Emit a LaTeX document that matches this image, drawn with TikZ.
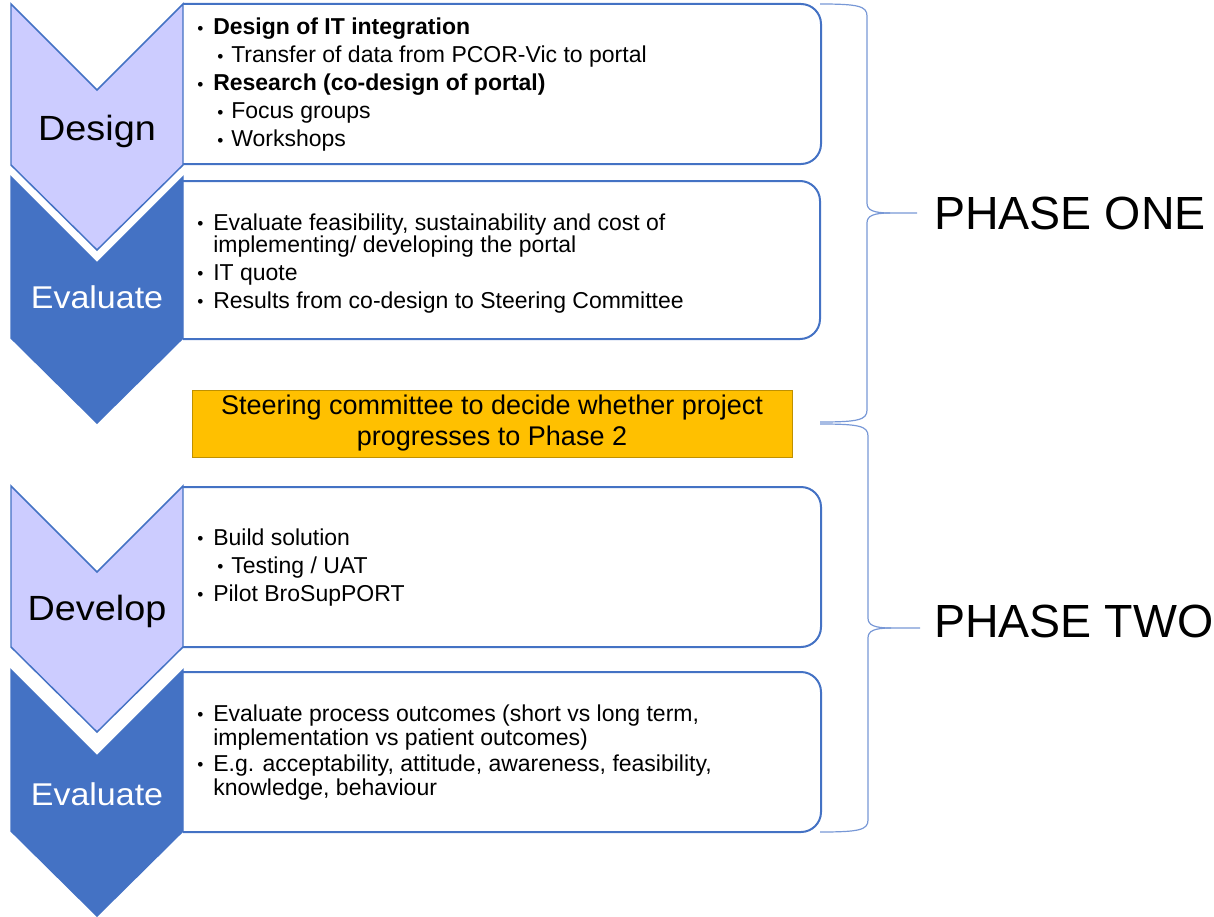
\documentclass[tikz,border=0pt]{standalone}
\usepackage{fontspec}
\setmainfont{Liberation Sans}
\usepackage{graphicx}
\usepackage{xcolor}
\usepackage{tikz}
\definecolor{lavender}{RGB}{204,204,255}
\definecolor{pblue}{RGB}{68,114,196}
\definecolor{braceblue}{RGB}{120,152,214}
\definecolor{amber}{RGB}{255,192,0}
\definecolor{amberdark}{RGB}{191,144,0}

% bullet lists inside the panels
\newcommand{\bul}{\raisebox{0.2pt}{\fontsize{13pt}{13pt}\selectfont\textbullet}}
\newcommand{\lvlone}[1]{\par\hangindent=12pt\hangafter=1\noindent\makebox[12pt][l]{\bul}#1}
\newcommand{\lvltwo}[1]{\par\hangindent=25.5pt\hangafter=1\noindent\hspace*{15pt}\makebox[10.5pt][l]{\bul}#1}
\newcommand{\panelfont}[1]{\fontsize{17.25pt}{#1}\selectfont\lineskiplimit=-\maxdimen\lineskip=0pt}

\begin{document}
\begin{tikzpicture}[
    x=0.75pt, y=-0.75pt,
    chevlight/.style = {fill=lavender, draw=pblue, line width=1.1pt},
    chevdark/.style  = {fill=pblue, draw=pblue, line width=1.1pt},
    panel/.style     = {draw=pblue, line width=1.5pt, rounded corners=15pt},
    decision/.style  = {rectangle, fill=amber, draw=amberdark, line width=0.6pt,
                        minimum width=450pt, minimum height=50.25pt, inner sep=0pt,
                        align=center, font=\fontsize{20.25pt}{23.25pt}\selectfont},
    brace/.style     = {draw=braceblue, line width=0.9pt},
    stage/.style     = {anchor=base, inner sep=0pt},
    phase/.style     = {anchor=west, inner sep=0pt,
                        font=\fontsize{34.9pt}{40pt}\selectfont},
    bullets/.style   = {anchor=base west, inner sep=0pt},
]
\useasboundingbox (0,0) rectangle (1214,917);

% content panels
\draw[panel] (183,4)   -- (821,4)   -- (821,164) -- (183,164);
\draw[panel] (183,181) -- (820,181) -- (820,339) -- (183,339);
\draw[panel] (183,487) -- (821,487) -- (821,647) -- (183,647);
\draw[panel] (183,672) -- (821,672) -- (821,832) -- (183,832);

% chevrons
\draw[chevlight] (11,4)   -- (97,90)  -- (183,4)   -- (183,165) -- (97,250) -- (11,165) -- cycle;
\draw[chevdark]  (11,177) -- (97,263) -- (183,177) -- (183,338) -- (97,423) -- (11,338) -- cycle;
\draw[chevlight] (11,486) -- (97,572) -- (183,486) -- (183,647) -- (97,732) -- (11,647) -- cycle;
\draw[chevdark]  (11,670) -- (97,756) -- (183,670) -- (183,831) -- (97,916) -- (11,831) -- cycle;

\node[stage, font=\fontsize{26.25pt}{30pt}\selectfont] (design) at (97,140)
    {\scalebox{1.08}[1]{Design}};
\node[stage, text=white, font=\fontsize{23.6pt}{28pt}\selectfont] (eval1) at (97,308)
    {\scalebox{1.08}[1]{Evaluate}};
\node[stage, font=\fontsize{26.25pt}{30pt}\selectfont] (develop) at (97,620)
    {\scalebox{1.08}[1]{Develop}};
\node[stage, text=white, font=\fontsize{23.6pt}{28pt}\selectfont] (eval2) at (97,805)
    {\scalebox{1.08}[1]{Evaluate}};

% panel texts
\node[bullets] (list1) at (197,35) {\parbox[t]{457pt}{\panelfont{21pt}%
    \lvlone{\textbf{Design of IT integration}}
    \lvltwo{Transfer of data from PCOR-Vic to portal}
    \lvlone{\textbf{Research (co-design of portal)}}
    \lvltwo{Focus groups}
    \lvltwo{Workshops}}};

\node[bullets] (list2) at (197,230) {\parbox[t]{457pt}{\panelfont{16.5pt}%
    \lvlone{Evaluate feasibility, sustainability and cost of\\
            implementing/ developing the portal}
    \par\vspace{4.5pt}
    \lvlone{IT quote}
    \par\vspace{4.5pt}
    \lvlone{Results from co-design to Steering Committee}}};

\node[bullets] (list3) at (197,545) {\parbox[t]{457pt}{\panelfont{21pt}%
    \lvlone{Build solution}
    \lvltwo{Testing / UAT}
    \lvlone{Pilot BroSupPORT}}};

\node[bullets] (list4) at (197,721) {\parbox[t]{457pt}{\panelfont{18pt}%
    \lvlone{Evaluate process outcomes (short vs long term,\\
            implementation vs patient outcomes)}
    \par\vspace{1.5pt}
    \lvlone{E.g. acceptability, attitude, awareness, feasibility,\\
            knowledge, behaviour}}};

% go / no-go decision
\node[decision] (gate) at (492,423.5)
    {Steering committee to decide whether project\\progresses to Phase 2};

% phase braces
\draw[brace] (820,4) .. controls (858,4) and (867,6) .. (867,16) -- (867,203)
    .. controls (867,210) and (873,213) .. (890,213) -- (917,213);
\draw[brace] (890,213) .. controls (873,213) and (867,216) .. (867,223) -- (867,410)
    .. controls (867,420) and (858,422) .. (820,422);
\draw[brace] (820,424) .. controls (859,424) and (868,426) .. (868,436) -- (868,618)
    .. controls (868,625) and (874,628) .. (891,628) -- (920,628);
\draw[brace] (891,628) .. controls (874,628) and (868,631) .. (868,638) -- (868,820)
    .. controls (868,830) and (859,832) .. (820,832);

\node[phase] (ph1) at (934,213.5) {PHASE ONE};
\node[phase] (ph2) at (934,621)   {PHASE TWO};
\end{tikzpicture}
\end{document}
